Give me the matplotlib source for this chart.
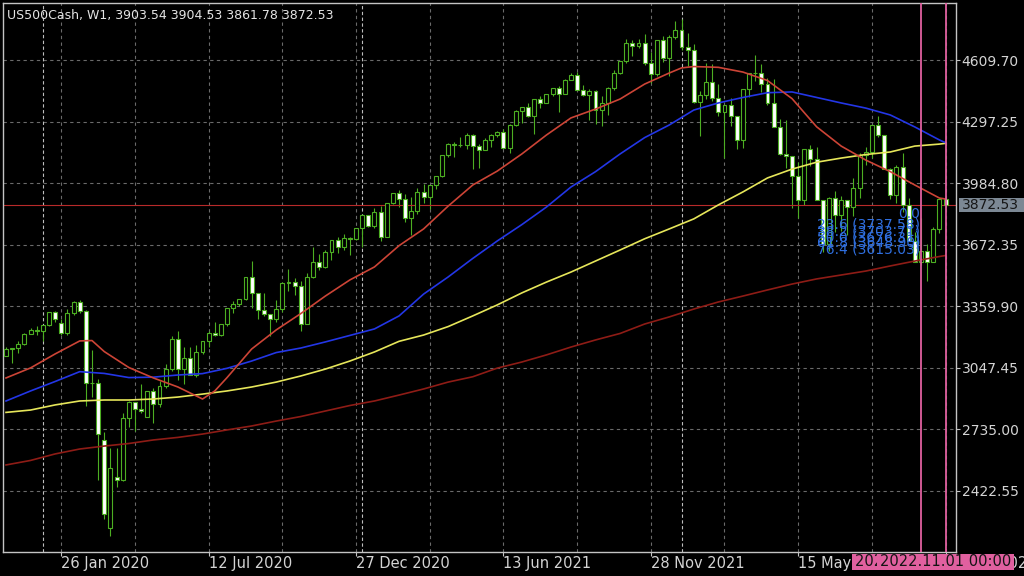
import matplotlib
matplotlib.use('Agg')
import matplotlib.pyplot as plt
from matplotlib.patches import Rectangle
import numpy as np

# US500Cash weekly candles, bar 0 = week of 24 Nov 2019, bar 153 = current week
title = 'US500Cash, W1, 3903.54 3904.53 3861.78 3872.53'

opens = [3110, 3141, 3146, 3169, 3221, 3240, 3235, 3265, 3330, 3275,
         3226, 3328, 3380, 3338, 2970, 2972, 2680, 2235, 2494, 2480,
         2790, 2875, 2837, 2800, 2930, 2864, 2955, 3044, 3194, 3041,
         3097, 3009, 3130, 3185, 3225, 3216, 3271, 3351, 3373, 3397,
         3508, 3427, 3341, 3319, 3298, 3348, 3477, 3484, 3465, 3270,
         3510, 3585, 3558, 3638, 3699, 3663, 3709, 3703, 3756, 3825,
         3768, 3841, 3714, 3887, 3934, 3907, 3811, 3842, 3943, 3913,
         3975, 4020, 4129, 4185, 4180, 4181, 4232, 4174, 4156, 4204,
         4230, 4247, 4166, 4281, 4352, 4370, 4327, 4411, 4395, 4437,
         4468, 4441, 4509, 4535, 4458, 4433, 4455, 4357, 4391, 4471,
         4545, 4605, 4697, 4683, 4698, 4595, 4538, 4712, 4620, 4726,
         4766, 4677, 4663, 4398, 4432, 4500, 4419, 4349, 4385, 4329,
         4204, 4463, 4543, 4546, 4488, 4393, 4272, 4132, 4123, 4024,
         3901, 4158, 4109, 3901, 3675, 3912, 3825, 3899, 3863, 3962,
         4130, 4145, 4280, 4228, 4057, 3924, 4067, 3873, 3693, 3586,
         3640, 3583, 3752, 3903.54]
highs = [3154, 3150, 3182, 3226, 3248, 3258, 3267, 3330, 3338, 3297,
         3347, 3385, 3393, 3340, 3136, 2990, 2720, 2640, 2641, 2819,
         2880, 2875, 2965, 2930, 2945, 2981, 3068, 3211, 3233, 3155,
         3155, 3165, 3186, 3233, 3280, 3272, 3352, 3387, 3399, 3509,
         3588, 3430, 3428, 3320, 3393, 3482, 3550, 3502, 3490, 3529,
         3660, 3628, 3645, 3699, 3712, 3726, 3712, 3760, 3827, 3826,
         3860, 3870, 3887, 3937, 3950, 3929, 3915, 3960, 3983, 3978,
         4021, 4130, 4191, 4195, 4219, 4238, 4236, 4187, 4213, 4234,
         4249, 4261, 4286, 4356, 4372, 4393, 4415, 4429, 4440, 4468,
         4481, 4513, 4545, 4549, 4486, 4466, 4457, 4429, 4475, 4559,
         4608, 4718, 4714, 4718, 4744, 4652, 4713, 4731, 4740, 4808,
         4818, 4749, 4690, 4453, 4595, 4590, 4490, 4385, 4417, 4329,
         4465, 4546, 4637, 4593, 4520, 4513, 4309, 4308, 4123, 4091,
         4160, 4178, 4169, 3901, 3914, 3946, 3918, 3900, 4012, 4140,
         4168, 4280, 4325, 4230, 4062, 4076, 4140, 3908, 3736, 3807,
         3674, 3762, 3912, 3904.53]
lows = [3107, 3070, 3124, 3165, 3218, 3212, 3182, 3260, 3280, 3214,
        3214, 3315, 3328, 2855, 2901, 2478, 2281, 2192, 2442, 2475,
        2749, 2728, 2817, 2797, 2766, 2850, 2945, 3032, 2984, 2966,
        3009, 3000, 3116, 3155, 3207, 3209, 3260, 3328, 3363, 3390,
        3349, 3293, 3313, 3209, 3280, 3332, 3440, 3416, 3233, 3268,
        3505, 3543, 3555, 3594, 3633, 3647, 3620, 3695, 3663, 3764,
        3760, 3694, 3710, 3880, 3865, 3789, 3723, 3830, 3884, 3854,
        3955, 4015, 4118, 4118, 4169, 4160, 4057, 4062, 4152, 4168,
        4221, 4165, 4140, 4278, 4289, 4321, 4233, 4368, 4393, 4429,
        4347, 4437, 4508, 4457, 4429, 4306, 4288, 4278, 4330, 4459,
        4538, 4595, 4630, 4672, 4585, 4495, 4531, 4600, 4531, 4720,
        4662, 4582, 4395, 4223, 4415, 4401, 4327, 4115, 4277, 4157,
        4162, 4424, 4506, 4450, 4381, 4272, 4128, 4062, 3858, 3810,
        3875, 4074, 3900, 3637, 3640, 3739, 3742, 3722, 3818, 3910,
        4079, 4113, 4218, 4057, 3907, 3886, 3838, 3694, 3584, 3572,
        3491, 3583, 3732, 3861.78]
closes = [3141, 3146, 3169, 3221, 3240, 3235, 3265, 3330, 3295, 3226,
          3328, 3380, 3338, 2970, 2972, 2711, 2303, 2537, 2480, 2790,
          2875, 2837, 2830, 2930, 2864, 2955, 3044, 3194, 3041, 3097,
          3009, 3130, 3185, 3225, 3216, 3271, 3351, 3373, 3397, 3508,
          3427, 3341, 3319, 3298, 3348, 3477, 3484, 3465, 3270, 3510,
          3585, 3558, 3638, 3699, 3663, 3709, 3703, 3756, 3825, 3768,
          3841, 3714, 3887, 3934, 3907, 3811, 3842, 3943, 3913, 3975,
          4020, 4129, 4185, 4180, 4181, 4232, 4174, 4156, 4204, 4230,
          4247, 4166, 4281, 4352, 4370, 4327, 4411, 4395, 4437, 4468,
          4441, 4509, 4535, 4458, 4433, 4455, 4357, 4391, 4471, 4545,
          4605, 4697, 4683, 4698, 4595, 4538, 4712, 4620, 4726, 4766,
          4677, 4663, 4398, 4432, 4500, 4419, 4349, 4385, 4329, 4204,
          4463, 4543, 4546, 4488, 4393, 4272, 4132, 4123, 4024, 3901,
          4158, 4109, 3901, 3675, 3912, 3825, 3899, 3863, 3962, 4130,
          4145, 4280, 4228, 4057, 3924, 4067, 3873, 3693, 3586, 3640,
          3583, 3752, 3903, 3872.53]

# moving averages (bar index -> value)
red_idx = [0, 4, 8, 12, 14, 16, 20, 24, 28, 32, 34, 36, 40, 44, 48, 52, 56, 60, 64, 68,
           72, 76, 80, 84, 88, 92, 96, 100, 104, 108, 110, 112, 116, 120, 124, 128, 132,
           136, 140, 144, 148, 152, 153]
ma20 = [2996, 3047, 3118, 3184, 3186, 3130, 3049, 2996, 2950, 2889, 2930, 2998, 3143, 3240,
        3323, 3412, 3494, 3560, 3668, 3753, 3869, 3976, 4047, 4134, 4230, 4317, 4362, 4413,
        4489, 4545, 4571, 4578, 4574, 4550, 4507, 4415, 4272, 4174, 4103, 4044, 3976, 3910, 3905]

ma_idx = [0, 4, 8, 12, 16, 20, 24, 28, 32, 36, 40, 44, 48, 52, 56, 60, 64, 68, 72, 76,
          80, 84, 88, 92, 96, 100, 104, 108, 112, 116, 120, 124, 128, 132, 136, 140, 144,
          148, 152, 153]
ma50 = [2879, 2930, 2978, 3028, 3019, 2998, 3000, 3011, 3018, 3045, 3082, 3125, 3148, 3179,
        3212, 3245, 3311, 3422, 3509, 3603, 3692, 3775, 3864, 3966, 4044, 4134, 4217, 4281,
        4357, 4393, 4421, 4445, 4449, 4421, 4393, 4367, 4332, 4271, 4205, 4191]
ma100 = [2821, 2833, 2859, 2879, 2884, 2884, 2889, 2899, 2914, 2930, 2950, 2975, 3006, 3041,
         3082, 3128, 3182, 3214, 3257, 3311, 3367, 3428, 3483, 3534, 3590, 3646, 3703, 3753,
         3804, 3875, 3941, 4012, 4057, 4092, 4113, 4131, 4144, 4174, 4184, 4188]
ma200 = [2554, 2577, 2610, 2635, 2650, 2663, 2681, 2694, 2711, 2732, 2752, 2777, 2800, 2828,
         2856, 2879, 2909, 2940, 2975, 3002, 3046, 3077, 3113, 3153, 3189, 3222, 3270, 3306,
         3346, 3382, 3412, 3443, 3473, 3499, 3519, 3539, 3565, 3590, 3613, 3618]

price_ticks = [2422.55, 2735.00, 3047.45, 3359.90, 3672.35, 3984.80, 4297.25, 4609.70]
date_ticks = [9, 33, 57, 81, 105, 129, 153]
date_labels = ['26 Jan 2020', '12 Jul 2020', '27 Dec 2020', '13 Jun 2021',
               '28 Nov 2021', '15 May 2022', '30 Oct 2022']
grid_bars = [9, 21, 33, 45, 57, 69, 81, 93, 105, 117, 129, 141, 153]
year_bars = [6, 58, 110]
vline_bars = [149, 153]
vline_labels = ['2022.10.02 00:00', '2022.11.01 00:00']
fib_names = ['0.0', '23.6 (3737.58)', '38.2 (3703.71)', '50.0 (3676.31)',
             '61.8 (3648.90)', '76.4 (3615.03)']
fib_prices = [3792.30, 3737.58, 3703.71, 3676.31, 3648.90, 3615.03]
bid = 3872.53

green = '#4cae22'
pink = '#e0609f'
grid_c = '#6a6a6a'

fig = plt.figure(figsize=(10.24, 5.76), dpi=100, facecolor='black')
ax = fig.add_axes([3 / 1024, 24 / 576, 953 / 1024, 549 / 576], facecolor='black')
ax.set_xlim(-0.49, 154.7)
ax.set_ylim(2111.8, 4900.8)

for p in price_ticks:
    ax.axhline(p, color=grid_c, lw=0.8, dashes=(3, 3), zorder=1)
for b in grid_bars:
    ax.axvline(b, color=grid_c, lw=0.8, dashes=(3, 3), zorder=1)
for b in year_bars:
    ax.axvline(b, color='#bdbdbd', lw=0.8, dashes=(3, 2.2), zorder=1)

o = np.array(opens, dtype=float)
h = np.array(highs, dtype=float)
l = np.array(lows, dtype=float)
c = np.array(closes, dtype=float)
x = np.arange(len(c))
up = c >= o

ax.vlines(x, l, h, color=green, lw=0.8, zorder=2)
ax.bar(x, np.abs(c - o), bottom=np.minimum(o, c), width=0.64,
       color=np.where(up, 'black', 'white'), edgecolor=green, linewidth=0.8, zorder=3)

ax.axhline(bid, color='#b82a2a', lw=0.8, zorder=2.5)

ax.plot(ma_idx, ma200, color='#8e1c16', lw=1.2, zorder=4)
ax.plot(ma_idx, ma100, color='#e6e65a', lw=1.2, zorder=4)
ax.plot(ma_idx, ma50, color='#2336e6', lw=1.2, zorder=4)
ax.plot(red_idx, ma20, color='#cc4436', lw=1.2, zorder=4)

for name, p in zip(fib_names, fib_prices):
    ax.text(148.9, p, name, color='#2f6fe0', fontsize=10, ha='right', va='bottom', zorder=4.5)

for b in vline_bars:
    ax.axvline(b, color=pink, lw=1.3, zorder=5)

for s in ax.spines.values():
    s.set_color('#c4c4c4')
    s.set_linewidth(1)

ax.yaxis.tick_right()
ax.set_yticks(price_ticks)
ax.set_yticklabels(['%.2f' % p for p in price_ticks])
ax.tick_params(axis='y', colors='#c4c4c4', labelcolor='#d4d4d4', length=3, width=0.8,
               labelsize=10, pad=1)
ax.set_xticks(date_ticks)
ax.set_xticklabels(date_labels, ha='left')
ax.tick_params(axis='x', colors='#c4c4c4', labelcolor='#d4d4d4', length=3, width=0.8,
               labelsize=10.5, pad=0)

# current price tag on the price scale
ytr = ax.get_yaxis_transform()
ax.add_patch(Rectangle((1.0031, bid - 36), 0.068, 72, transform=ytr, facecolor='#7c8894',
                       edgecolor='none', clip_on=False, zorder=6))
ax.text(1.0065, bid, '%.2f' % bid, transform=ytr, color='#161616', fontsize=10,
        ha='left', va='center', clip_on=False, zorder=7)

# time tags of the vertical lines, each tag drawn over the previous one
xtr = ax.get_xaxis_transform()
half = 68.5 / 6.14
for k, (b, lab) in enumerate(zip(vline_bars, vline_labels)):
    ax.add_patch(Rectangle((b - half, -17.5 / 549), 2 * half, 15.5 / 549, transform=xtr,
                           facecolor=pink, edgecolor='none', clip_on=False, zorder=6 + 2 * k))
    ax.text(b - half + 0.4, -9.8 / 549, lab, transform=xtr, color='#141414', fontsize=10.5,
            ha='left', va='center', clip_on=False, zorder=7 + 2 * k)

fig.text(7 / 1024, 1 - 15 / 576, title, color='#e4e4e4', fontsize=9, ha='left', va='center')

fig.savefig('out.png', dpi=100, facecolor='black')
